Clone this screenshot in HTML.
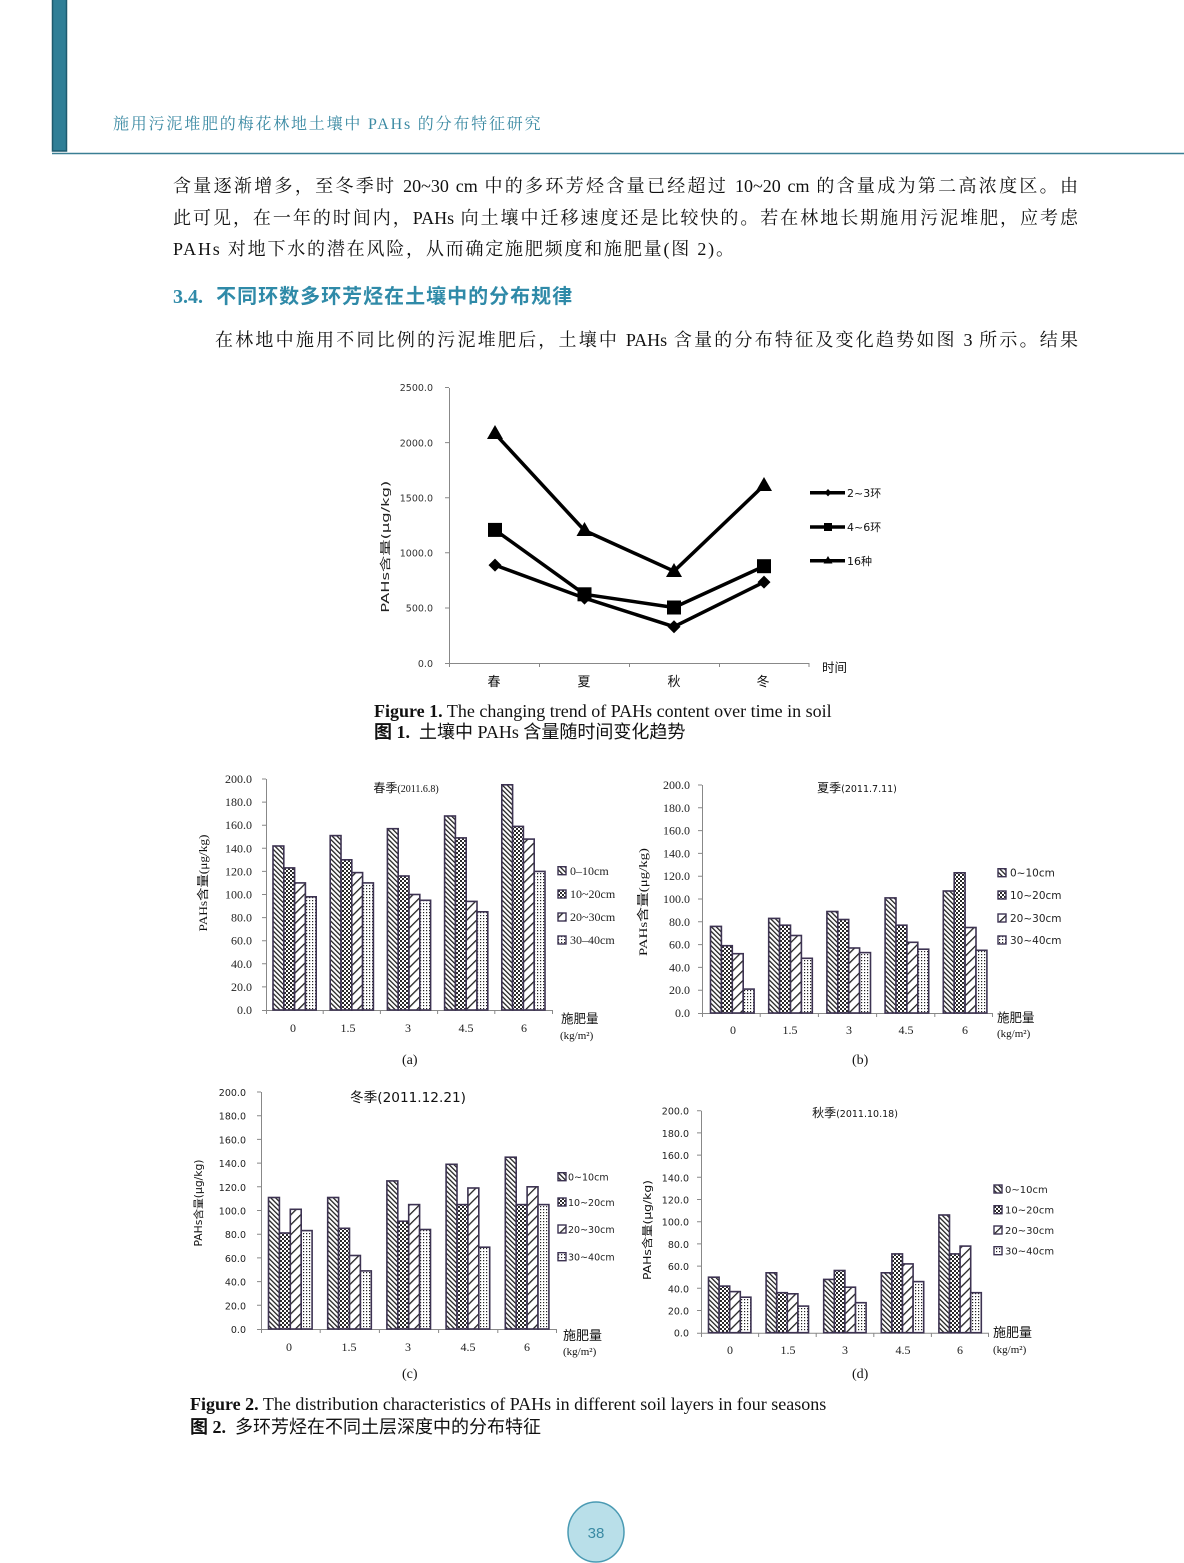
<!DOCTYPE html>
<html>
<head>
<meta charset="utf-8">
<style>
html,body{margin:0;padding:0;background:#fff;}
body{width:1184px;height:1563px;position:relative;overflow:hidden;}
.t{position:absolute;white-space:nowrap;font-family:"Liberation Serif","Noto Serif CJK SC",serif;color:#111;}
.j{text-align:justify;text-align-last:justify;white-space:normal;}
svg{position:absolute;left:0;top:0;}
</style>
</head>
<body>
<svg width="1184" height="1563" viewBox="0 0 1184 1563" xmlns="http://www.w3.org/2000/svg">
<defs>
<pattern id="pA" width="3.4" height="3.4" patternUnits="userSpaceOnUse" patternTransform="rotate(-45)"><rect width="3.4" height="3.4" fill="#fff"/><rect width="1.3" height="3.4" fill="#222"/></pattern>
<pattern id="pB" width="4" height="4" patternUnits="userSpaceOnUse"><rect width="4" height="4" fill="#fff"/><rect width="2" height="2" fill="#2a2a2a"/><rect x="2" y="2" width="2" height="2" fill="#2a2a2a"/></pattern>
<pattern id="pC" width="7" height="7" patternUnits="userSpaceOnUse" patternTransform="rotate(45)"><rect width="7" height="7" fill="#fff"/><rect width="1.3" height="7" fill="#222"/></pattern>
<pattern id="pD" width="3" height="3" patternUnits="userSpaceOnUse"><rect width="3" height="3" fill="#fff"/><rect width="1.2" height="1.2" fill="#222"/></pattern>
</defs>

<!-- header -->
<rect x="52.5" y="-2" width="14" height="153" fill="#2f7f97" stroke="#1d5a6e" stroke-width="1.5"/>
<line x1="52" y1="153.5" x2="1184" y2="153.5" stroke="#3a7f94" stroke-width="1.5"/>

<!-- ============ FIGURE 1 ============ -->
<g stroke="#888" stroke-width="1" fill="none">
<path d="M449.5 388V663.5H809"/>
<path d="M445 663.5H449M445 608H449M445 552.8H449M445 497.7H449M445 442.6H449M445 387.5H449"/>
<path d="M449.5 663V667M539.5 663V667M629.5 663V667M719.5 663V667M809 663V667"/>
</g>
<g font-family="DejaVu Sans, Liberation Sans, sans-serif" font-size="9.5" fill="#333" text-anchor="end">
<text x="433" y="667">0.0</text>
<text x="433" y="611.5">500.0</text>
<text x="433" y="556.5">1000.0</text>
<text x="433" y="501.5">1500.0</text>
<text x="433" y="446.5">2000.0</text>
<text x="433" y="391">2500.0</text>
</g>
<text transform="translate(389,546.7) rotate(-90)" text-anchor="middle" font-family="DejaVu Sans, Noto Sans CJK SC, sans-serif" font-size="11" fill="#222" textLength="132" lengthAdjust="spacingAndGlyphs">PAHs含量(μg/kg)</text>
<g font-family="Liberation Sans, Noto Sans CJK SC, sans-serif" font-size="13" fill="#111" text-anchor="middle">
<text x="494" y="686">春</text>
<text x="584" y="686">夏</text>
<text x="674" y="686">秋</text>
<text x="763" y="686">冬</text>
</g>
<text x="822" y="672" font-family="Liberation Sans, Noto Sans CJK SC, sans-serif" font-size="12.5" fill="#111">时间</text>
<g fill="none" stroke="#000" stroke-width="3.5" stroke-linejoin="round">
<polyline points="495,565.1 584.5,598.1 674,626.7 764,582.1"/>
<polyline points="495,529.9 584.5,594.3 674,607.5 764,566.2"/>
<polyline points="495,433.7 584.5,530.5 674,571.2 764,485.3"/>
</g>
<g fill="#000">
<polygon points="495,558.6 501.5,565.1 495,571.6 488.5,565.1"/>
<polygon points="584.5,591.6 591,598.1 584.5,604.6 578,598.1"/>
<polygon points="674,620.2 680.5,626.7 674,633.2 667.5,626.7"/>
<polygon points="764,575.6 770.5,582.1 764,588.6 757.5,582.1"/>
<rect x="488" y="522.9" width="14" height="14"/>
<rect x="577.5" y="587.3" width="14" height="14"/>
<rect x="667" y="600.5" width="14" height="14"/>
<rect x="757" y="559.2" width="14" height="14"/>
<polygon points="495,425 503,439 487,439"/>
<polygon points="584.5,522 592.5,536 576.5,536"/>
<polygon points="674,563 682,577 666,577"/>
<polygon points="764,477 772,491 756,491"/>
</g>
<!-- legend fig1 -->
<g stroke="#000" stroke-width="3.5">
<line x1="810" y1="492.7" x2="845" y2="492.7"/>
<line x1="810" y1="527" x2="845" y2="527"/>
<line x1="810" y1="560.7" x2="845" y2="560.7"/>
</g>
<g fill="#000">
<polygon points="828,489 831.5,492.7 828,496.4 824.5,492.7"/>
<rect x="824" y="523" width="8" height="8"/>
<polygon points="828,556 832.5,563.5 823.5,563.5"/>
</g>
<g font-family="DejaVu Sans, Noto Sans CJK SC, sans-serif" font-size="11" fill="#111">
<text x="847" y="497">2~3环</text>
<text x="847" y="531">4~6环</text>
<text x="847" y="565">16种</text>
</g>

<!-- ============ FIGURE 2 (a) ============ -->
<g stroke="#888" stroke-width="1" fill="none">
<path d="M266.5 779V1010.5H553"/>
<path d="M262 1010.5H266M262 986.9H266M262 963.8H266M262 940.7H266M262 917.6H266M262 894.5H266M262 871.4H266M262 848.3H266M262 825.2H266M262 802.1H266M262 779H266"/>
<path d="M266.5 1010V1014M323.2 1010V1014M380.4 1010V1014M437.6 1010V1014M494.8 1010V1014M552.5 1010V1014"/>
</g>
<g font-family="Liberation Serif, serif" font-size="12" fill="#222" text-anchor="end">
<text x="252" y="1014">0.0</text><text x="252" y="990.9">20.0</text><text x="252" y="967.8">40.0</text><text x="252" y="944.7">60.0</text><text x="252" y="921.6">80.0</text><text x="252" y="898.5">100.0</text><text x="252" y="875.4">120.0</text><text x="252" y="852.3">140.0</text><text x="252" y="829.2">160.0</text><text x="252" y="806.1">180.0</text><text x="252" y="783">200.0</text>
</g>
<g stroke="#3d3352" stroke-width="1.6">
<rect x="273" y="846.0" width="10.8" height="164.0" fill="url(#pA)"/>
<rect x="283.8" y="867.9" width="10.8" height="142.1" fill="url(#pB)"/>
<rect x="294.6" y="882.9" width="10.8" height="127.1" fill="url(#pC)"/>
<rect x="305.4" y="896.8" width="10.8" height="113.2" fill="url(#pD)"/>
<rect x="330.2" y="835.6" width="10.8" height="174.4" fill="url(#pA)"/>
<rect x="341" y="859.8" width="10.8" height="150.2" fill="url(#pB)"/>
<rect x="351.8" y="872.6" width="10.8" height="137.4" fill="url(#pC)"/>
<rect x="362.6" y="882.9" width="10.8" height="127.1" fill="url(#pD)"/>
<rect x="387.4" y="828.7" width="10.8" height="181.3" fill="url(#pA)"/>
<rect x="398.2" y="876.0" width="10.8" height="134.0" fill="url(#pB)"/>
<rect x="409" y="894.5" width="10.8" height="115.5" fill="url(#pC)"/>
<rect x="419.8" y="900.3" width="10.8" height="109.7" fill="url(#pD)"/>
<rect x="444.6" y="816.0" width="10.8" height="194.0" fill="url(#pA)"/>
<rect x="455.4" y="837.9" width="10.8" height="172.1" fill="url(#pB)"/>
<rect x="466.2" y="901.4" width="10.8" height="108.6" fill="url(#pC)"/>
<rect x="477" y="911.8" width="10.8" height="98.2" fill="url(#pD)"/>
<rect x="501.8" y="784.8" width="10.8" height="225.2" fill="url(#pA)"/>
<rect x="512.6" y="826.4" width="10.8" height="183.6" fill="url(#pB)"/>
<rect x="523.4" y="839.1" width="10.8" height="170.9" fill="url(#pC)"/>
<rect x="534.2" y="871.4" width="10.8" height="138.6" fill="url(#pD)"/>
</g>
<text x="406" y="792" text-anchor="middle" font-family="Liberation Serif, Noto Sans CJK SC, sans-serif" font-size="12" fill="#111">春季<tspan font-size="10">(2011.6.8)</tspan></text>
<text transform="translate(207,883) rotate(-90)" text-anchor="middle" font-family="Liberation Serif, Noto Sans CJK SC, serif" font-size="12" fill="#111" textLength="97" lengthAdjust="spacingAndGlyphs">PAHs含量(μg/kg)</text>
<g font-family="Liberation Serif, serif" font-size="12" fill="#222" text-anchor="middle">
<text x="293" y="1032">0</text><text x="348" y="1032">1.5</text><text x="408" y="1032">3</text><text x="466" y="1032">4.5</text><text x="524" y="1032">6</text>
</g>
<g stroke="#3d3352" stroke-width="1.4">
<rect x="558" y="866.7" width="8" height="8" fill="url(#pA)"/>
<rect x="558" y="890" width="8" height="8" fill="url(#pB)"/>
<rect x="558" y="913" width="8" height="8" fill="url(#pC)"/>
<rect x="558" y="936" width="8" height="8" fill="url(#pD)"/>
</g>
<g font-family="Liberation Serif, serif" font-size="12" fill="#222">
<text x="570" y="875">0–10cm</text><text x="570" y="898">10~20cm</text><text x="570" y="921">20~30cm</text><text x="570" y="944">30–40cm</text>
</g>
<text x="561" y="1023" font-family="Noto Sans CJK SC, sans-serif" font-size="12.5" fill="#111">施肥量</text>
<text x="560" y="1039" font-family="Liberation Serif, serif" font-size="11" fill="#111">(kg/m²)</text>

<!-- ============ FIGURE 2 (b) ============ -->
<g stroke="#888" stroke-width="1" fill="none">
<path d="M702.5 785V1013.5H993"/>
<path d="M698 1013.5H702M698 990.2H702M698 967.4H702M698 944.6H702M698 921.8H702M698 899H702M698 876.2H702M698 853.4H702M698 830.6H702M698 807.8H702M698 785H702"/>
<path d="M702.5 1013V1017M760.2 1013V1017M818.4 1013V1017M876.6 1013V1017M934.8 1013V1017M992.5 1013V1017"/>
</g>
<g font-family="Liberation Serif, serif" font-size="12" fill="#222" text-anchor="end">
<text x="690" y="1017">0.0</text><text x="690" y="994.2">20.0</text><text x="690" y="971.4">40.0</text><text x="690" y="948.6">60.0</text><text x="690" y="925.8">80.0</text><text x="690" y="903">100.0</text><text x="690" y="880.2">120.0</text><text x="690" y="857.4">140.0</text><text x="690" y="834.6">160.0</text><text x="690" y="811.8">180.0</text><text x="690" y="789">200.0</text>
</g>
<g stroke="#3d3352" stroke-width="1.6">
<rect x="710.5" y="926.4" width="10.9" height="86.6" fill="url(#pA)"/>
<rect x="721.4" y="945.7" width="10.9" height="67.3" fill="url(#pB)"/>
<rect x="732.3" y="953.7" width="10.9" height="59.3" fill="url(#pC)"/>
<rect x="743.2" y="989.1" width="10.9" height="23.9" fill="url(#pD)"/>
<rect x="768.7" y="918.4" width="10.9" height="94.6" fill="url(#pA)"/>
<rect x="779.6" y="925.2" width="10.9" height="87.8" fill="url(#pB)"/>
<rect x="790.5" y="935.5" width="10.9" height="77.5" fill="url(#pC)"/>
<rect x="801.4" y="958.3" width="10.9" height="54.7" fill="url(#pD)"/>
<rect x="826.9" y="911.5" width="10.9" height="101.5" fill="url(#pA)"/>
<rect x="837.8" y="919.5" width="10.9" height="93.5" fill="url(#pB)"/>
<rect x="848.7" y="948.0" width="10.9" height="65.0" fill="url(#pC)"/>
<rect x="859.6" y="952.6" width="10.9" height="60.4" fill="url(#pD)"/>
<rect x="885.1" y="897.9" width="10.9" height="115.1" fill="url(#pA)"/>
<rect x="896" y="925.2" width="10.9" height="87.8" fill="url(#pB)"/>
<rect x="906.9" y="942.3" width="10.9" height="70.7" fill="url(#pC)"/>
<rect x="917.8" y="949.2" width="10.9" height="63.8" fill="url(#pD)"/>
<rect x="943.3" y="891.0" width="10.9" height="122.0" fill="url(#pA)"/>
<rect x="954.2" y="872.8" width="10.9" height="140.2" fill="url(#pB)"/>
<rect x="965.1" y="927.5" width="10.9" height="85.5" fill="url(#pC)"/>
<rect x="976" y="950.3" width="10.9" height="62.7" fill="url(#pD)"/>
</g>
<text x="857" y="792" text-anchor="middle" font-family="DejaVu Sans, Noto Sans CJK SC, sans-serif" font-size="12" fill="#111">夏季<tspan font-size="9.5">(2011.7.11)</tspan></text>
<text transform="translate(647,902) rotate(-90)" text-anchor="middle" font-family="Liberation Serif, Noto Sans CJK SC, serif" font-size="12" fill="#111" textLength="108" lengthAdjust="spacingAndGlyphs">PAHs含量(μg/kg)</text>
<g font-family="Liberation Serif, serif" font-size="12" fill="#222" text-anchor="middle">
<text x="733" y="1034">0</text><text x="790" y="1034">1.5</text><text x="849" y="1034">3</text><text x="906" y="1034">4.5</text><text x="965" y="1034">6</text>
</g>
<g stroke="#3d3352" stroke-width="1.4">
<rect x="998" y="868.7" width="8" height="8" fill="url(#pA)"/>
<rect x="998" y="891" width="8" height="8" fill="url(#pB)"/>
<rect x="998" y="914" width="8" height="8" fill="url(#pC)"/>
<rect x="998" y="936" width="8" height="8" fill="url(#pD)"/>
</g>
<g font-family="DejaVu Sans, sans-serif" font-size="10.5" fill="#222">
<text x="1010" y="876.5">0~10cm</text><text x="1010" y="899">10~20cm</text><text x="1010" y="922">20~30cm</text><text x="1010" y="944">30~40cm</text>
</g>
<text x="997" y="1022" font-family="Noto Sans CJK SC, sans-serif" font-size="12.5" fill="#111">施肥量</text>
<text x="997" y="1037" font-family="Liberation Serif, serif" font-size="11" fill="#111">(kg/m²)</text>

<!-- ============ FIGURE 2 (c) ============ -->
<g stroke="#888" stroke-width="1" fill="none">
<path d="M261.5 1092V1329.5H557"/>
<path d="M257 1329.5H261M257 1305.3H261M257 1281.6H261M257 1257.9H261M257 1234.2H261M257 1210.5H261M257 1186.8H261M257 1163.1H261M257 1139.4H261M257 1115.7H261M257 1092H261"/>
<path d="M261.5 1329V1333M320.2 1329V1333M379.4 1329V1333M438.6 1329V1333M497.8 1329V1333M556.5 1329V1333"/>
</g>
<g font-family="DejaVu Sans, sans-serif" font-size="9.5" fill="#222" text-anchor="end">
<text x="246" y="1333">0.0</text><text x="246" y="1309.3">20.0</text><text x="246" y="1285.6">40.0</text><text x="246" y="1261.9">60.0</text><text x="246" y="1238.2">80.0</text><text x="246" y="1214.5">100.0</text><text x="246" y="1190.8">120.0</text><text x="246" y="1167.1">140.0</text><text x="246" y="1143.4">160.0</text><text x="246" y="1119.7">180.0</text><text x="246" y="1096">200.0</text>
</g>
<g stroke="#3d3352" stroke-width="1.6">
<rect x="268.5" y="1197.5" width="10.9" height="131.5" fill="url(#pA)"/>
<rect x="279.4" y="1233.0" width="10.9" height="96.0" fill="url(#pB)"/>
<rect x="290.3" y="1209.3" width="10.9" height="119.7" fill="url(#pC)"/>
<rect x="301.2" y="1230.6" width="10.9" height="98.4" fill="url(#pD)"/>
<rect x="327.7" y="1197.5" width="10.9" height="131.5" fill="url(#pA)"/>
<rect x="338.6" y="1228.3" width="10.9" height="100.7" fill="url(#pB)"/>
<rect x="349.5" y="1255.5" width="10.9" height="73.5" fill="url(#pC)"/>
<rect x="360.4" y="1270.9" width="10.9" height="58.1" fill="url(#pD)"/>
<rect x="386.9" y="1180.9" width="10.9" height="148.1" fill="url(#pA)"/>
<rect x="397.8" y="1221.2" width="10.9" height="107.8" fill="url(#pB)"/>
<rect x="408.7" y="1204.6" width="10.9" height="124.4" fill="url(#pC)"/>
<rect x="419.6" y="1229.5" width="10.9" height="99.5" fill="url(#pD)"/>
<rect x="446.1" y="1164.3" width="10.9" height="164.7" fill="url(#pA)"/>
<rect x="457" y="1204.6" width="10.9" height="124.4" fill="url(#pB)"/>
<rect x="467.9" y="1188.0" width="10.9" height="141.0" fill="url(#pC)"/>
<rect x="478.8" y="1247.2" width="10.9" height="81.8" fill="url(#pD)"/>
<rect x="505.3" y="1157.2" width="10.9" height="171.8" fill="url(#pA)"/>
<rect x="516.2" y="1204.6" width="10.9" height="124.4" fill="url(#pB)"/>
<rect x="527.1" y="1186.8" width="10.9" height="142.2" fill="url(#pC)"/>
<rect x="538" y="1204.6" width="10.9" height="124.4" fill="url(#pD)"/>
</g>
<text x="408" y="1102" text-anchor="middle" font-family="DejaVu Sans, Noto Sans CJK SC, sans-serif" font-size="13.5" fill="#111" textLength="116" lengthAdjust="spacingAndGlyphs">冬季(2011.12.21)</text>
<text transform="translate(202,1203) rotate(-90)" text-anchor="middle" font-family="DejaVu Sans, Noto Sans CJK SC, sans-serif" font-size="10.5" fill="#111" textLength="87" lengthAdjust="spacingAndGlyphs">PAHs含量(μg/kg)</text>
<g font-family="Liberation Serif, serif" font-size="12" fill="#222" text-anchor="middle">
<text x="289" y="1351">0</text><text x="349" y="1351">1.5</text><text x="408" y="1351">3</text><text x="468" y="1351">4.5</text><text x="527" y="1351">6</text>
</g>
<g stroke="#3d3352" stroke-width="1.4">
<rect x="558" y="1172.7" width="8" height="8" fill="url(#pA)"/>
<rect x="558" y="1198" width="8" height="8" fill="url(#pB)"/>
<rect x="558" y="1225" width="8" height="8" fill="url(#pC)"/>
<rect x="558" y="1252.7" width="8" height="8" fill="url(#pD)"/>
</g>
<g font-family="DejaVu Sans, sans-serif" font-size="9.5" fill="#222">
<text x="568" y="1180.5">0~10cm</text><text x="568" y="1206">10~20cm</text><text x="568" y="1233">20~30cm</text><text x="568" y="1260.5">30~40cm</text>
</g>
<text x="563" y="1340" font-family="Noto Sans CJK SC, sans-serif" font-size="13" fill="#111">施肥量</text>
<text x="563" y="1355" font-family="Liberation Serif, serif" font-size="11" fill="#111">(kg/m²)</text>

<!-- ============ FIGURE 2 (d) ============ -->
<g stroke="#888" stroke-width="1" fill="none">
<path d="M701.5 1110.7V1333.2H989"/>
<path d="M697 1333.2H701M697 1310.5H701M697 1288.3H701M697 1266.1H701M697 1243.9H701M697 1221.7H701M697 1199.5H701M697 1177.3H701M697 1155.1H701M697 1132.9H701M697 1110.7H701"/>
<path d="M701.5 1333V1337M758.6 1333V1337M816.2 1333V1337M873.8 1333V1337M931.4 1333V1337M988.5 1333V1337"/>
</g>
<g font-family="DejaVu Sans, sans-serif" font-size="9.5" fill="#222" text-anchor="end">
<text x="689" y="1336.7">0.0</text><text x="689" y="1314.5">20.0</text><text x="689" y="1292.3">40.0</text><text x="689" y="1270.1">60.0</text><text x="689" y="1247.9">80.0</text><text x="689" y="1225.7">100.0</text><text x="689" y="1203.5">120.0</text><text x="689" y="1181.3">140.0</text><text x="689" y="1159.1">160.0</text><text x="689" y="1136.9">180.0</text><text x="689" y="1114.7">200.0</text>
</g>
<g stroke="#3d3352" stroke-width="1.6">
<rect x="708.5" y="1277.2" width="10.6" height="55.5" fill="url(#pA)"/>
<rect x="719.1" y="1286.1" width="10.6" height="46.6" fill="url(#pB)"/>
<rect x="729.7" y="1291.6" width="10.6" height="41.1" fill="url(#pC)"/>
<rect x="740.3" y="1297.2" width="10.6" height="35.5" fill="url(#pD)"/>
<rect x="766.1" y="1272.8" width="10.6" height="59.9" fill="url(#pA)"/>
<rect x="776.7" y="1292.7" width="10.6" height="40.0" fill="url(#pB)"/>
<rect x="787.3" y="1293.8" width="10.6" height="38.9" fill="url(#pC)"/>
<rect x="797.9" y="1306.1" width="10.6" height="26.6" fill="url(#pD)"/>
<rect x="823.7" y="1279.4" width="10.6" height="53.3" fill="url(#pA)"/>
<rect x="834.3" y="1270.5" width="10.6" height="62.2" fill="url(#pB)"/>
<rect x="844.9" y="1287.2" width="10.6" height="45.5" fill="url(#pC)"/>
<rect x="855.5" y="1302.7" width="10.6" height="30.0" fill="url(#pD)"/>
<rect x="881.3" y="1272.8" width="10.6" height="59.9" fill="url(#pA)"/>
<rect x="891.9" y="1253.9" width="10.6" height="78.8" fill="url(#pB)"/>
<rect x="902.5" y="1263.9" width="10.6" height="68.8" fill="url(#pC)"/>
<rect x="913.1" y="1281.6" width="10.6" height="51.1" fill="url(#pD)"/>
<rect x="938.9" y="1215.0" width="10.6" height="117.7" fill="url(#pA)"/>
<rect x="949.5" y="1253.9" width="10.6" height="78.8" fill="url(#pB)"/>
<rect x="960.1" y="1246.1" width="10.6" height="86.6" fill="url(#pC)"/>
<rect x="970.7" y="1292.7" width="10.6" height="40.0" fill="url(#pD)"/>
</g>
<text x="855" y="1117" text-anchor="middle" font-family="DejaVu Sans, Noto Sans CJK SC, sans-serif" font-size="12" fill="#111">秋季<tspan font-size="9.5">(2011.10.18)</tspan></text>
<text transform="translate(651,1230) rotate(-90)" text-anchor="middle" font-family="DejaVu Sans, Noto Sans CJK SC, sans-serif" font-size="11" fill="#111" textLength="100" lengthAdjust="spacingAndGlyphs">PAHs含量(μg/kg)</text>
<g font-family="Liberation Serif, serif" font-size="12" fill="#222" text-anchor="middle">
<text x="730" y="1354">0</text><text x="788" y="1354">1.5</text><text x="845" y="1354">3</text><text x="903" y="1354">4.5</text><text x="960" y="1354">6</text>
</g>
<g stroke="#3d3352" stroke-width="1.4">
<rect x="994" y="1185" width="8" height="8" fill="url(#pA)"/>
<rect x="994" y="1205.7" width="8" height="8" fill="url(#pB)"/>
<rect x="994" y="1226" width="8" height="8" fill="url(#pC)"/>
<rect x="994" y="1246.7" width="8" height="8" fill="url(#pD)"/>
</g>
<g font-family="DejaVu Sans, sans-serif" font-size="10" fill="#222">
<text x="1005" y="1193">0~10cm</text><text x="1005" y="1213.5">10~20cm</text><text x="1005" y="1234">20~30cm</text><text x="1005" y="1254.5">30~40cm</text>
</g>
<text x="993" y="1337" font-family="Noto Sans CJK SC, sans-serif" font-size="13" fill="#111">施肥量</text>
<text x="993" y="1353" font-family="Liberation Serif, serif" font-size="11" fill="#111">(kg/m²)</text>

<!-- page number -->
<ellipse cx="596" cy="1532" rx="28" ry="30" fill="#b9dfe9" stroke="#4a9ab3" stroke-width="1.5"/>
<text x="596" y="1538" text-anchor="middle" font-family="Liberation Sans, sans-serif" font-size="15" fill="#3a8aa3">38</text>
</svg>

<!-- header text -->
<div class="t" style="left:113px;top:114px;font-size:16px;line-height:22px;color:#3b8aa3;letter-spacing:1.8px;">施用污泥堆肥的梅花林地土壤中 PAHs 的分布特征研究</div>

<!-- body -->
<div class="t j" style="left:173px;top:174px;width:905px;font-size:18px;line-height:24px;">含量逐渐增多，至冬季时 20~30 cm 中的多环芳烃含量已经超过 10~20 cm 的含量成为第二高浓度区。由</div>
<div class="t j" style="left:173px;top:206px;width:905px;font-size:18px;line-height:24px;">此可见，在一年的时间内，PAHs 向土壤中迁移速度还是比较快的。若在林地长期施用污泥堆肥，应考虑</div>
<div class="t" style="left:173px;top:237px;font-size:18px;line-height:24px;letter-spacing:1.8px;">PAHs 对地下水的潜在风险，从而确定施肥频度和施肥量(图 2)。</div>
<div class="t" style="left:173px;top:283px;font-size:20px;line-height:28px;color:#2f8aa8;font-weight:bold;font-family:'Liberation Sans','Noto Sans CJK SC',sans-serif;letter-spacing:1px;"><span style="font-family:'Liberation Serif',serif;letter-spacing:0;">3.4.</span>&nbsp;&nbsp;不同环数多环芳烃在土壤中的分布规律</div>
<div class="t j" style="left:215px;top:328px;width:863px;font-size:18px;line-height:24px;">在林地中施用不同比例的污泥堆肥后，土壤中 PAHs 含量的分布特征及变化趋势如图 3 所示。结果</div>

<!-- captions -->
<div class="t" style="left:374px;top:701px;font-size:18px;line-height:21px;"><b>Figure 1.</b> The changing trend of PAHs content over time in soil</div>
<div class="t" style="left:374px;top:722px;font-size:18px;line-height:21px;font-family:'Liberation Serif','Noto Sans CJK SC',sans-serif;"><b>图 1.</b>&nbsp; 土壤中 PAHs 含量随时间变化趋势</div>

<div class="t" style="left:402px;top:1051px;font-size:14px;line-height:20px;">(a)</div>
<div class="t" style="left:852px;top:1051px;font-size:14px;line-height:20px;">(b)</div>
<div class="t" style="left:402px;top:1365px;font-size:14px;line-height:20px;">(c)</div>
<div class="t" style="left:852px;top:1365px;font-size:14px;line-height:20px;">(d)</div>

<div class="t" style="left:190px;top:1394px;font-size:18px;line-height:21px;"><b>Figure 2.</b> The distribution characteristics of PAHs in different soil layers in four seasons</div>
<div class="t" style="left:190px;top:1417px;font-size:18px;line-height:21px;font-family:'Liberation Serif','Noto Sans CJK SC',sans-serif;"><b>图 2.</b>&nbsp; 多环芳烃在不同土层深度中的分布特征</div>
</body>
</html>
